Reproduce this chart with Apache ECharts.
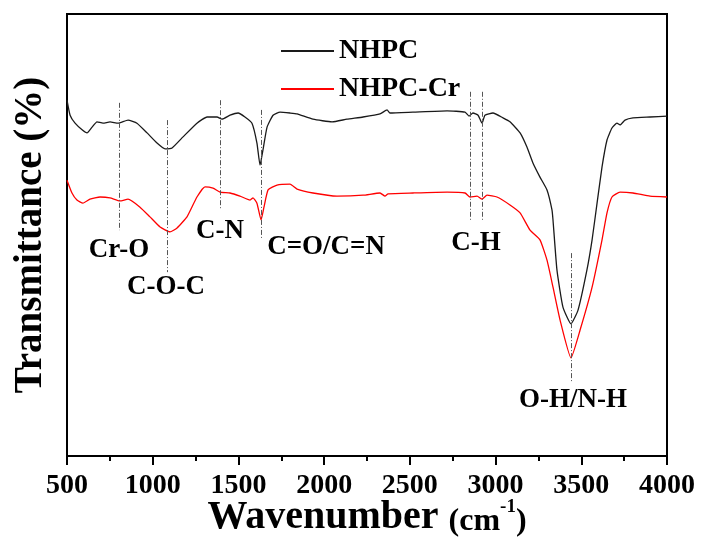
<!DOCTYPE html>
<html>
<head>
<meta charset="utf-8">
<script src="https://cdn.jsdelivr.net/npm/echarts@6/dist/echarts.min.js"></script>
<style>
html,body{margin:0;padding:0;background:#fff;}
#chart{width:701px;height:538px;}
</style>
</head>
<body>
<div id="chart"></div>
<script>
// NHPC (black) spectrum: [wavenumber, transmittance]
var nhpcWave = [500,518,547,588,617,646,675,710,751,798,856,908,967,1025,1072,1113,1177,1258,1317,1375,1404,1451,1498,1538,1579,1608,1626,1643,1667,1702,1743,1801,1842,1935,2046,2133,2227,2326,2367,2384,2518,2717,2822,2845,2868,2898,2921,2938,2985,3043,3084,3143,3183,3218,3259,3300,3329,3335,3358,3393,3440,3481,3533,3563,3592,3621,3650,3679,3708,3726,3755,3802,3901,4000];
var nhpcT    = [80.5,77.1,75.3,73.8,73.1,74.4,75.6,75.3,75.6,75.3,76.0,75.3,73.1,70.8,69.5,69.7,72.2,75.3,76.7,76.7,76.2,77.1,77.6,76.7,75.3,70.8,65.8,69.2,74.4,77.1,77.8,77.6,77.4,76.2,75.6,76.2,76.7,77.4,78.3,77.6,77.8,78.1,77.8,76.9,77.6,77.1,75.3,77.1,77.6,76.5,75.6,73.1,69.9,66.3,63.1,60.2,55.7,53.4,42.1,33.7,29.9,33.0,42.1,48.9,57.2,65.4,71.5,74.2,75.3,74.9,76.0,76.5,76.7,76.9];

// NHPC-Cr (red) spectrum
var crWave = [500,529,558,593,634,693,751,809,856,926,984,1043,1101,1142,1200,1258,1305,1352,1393,1451,1509,1568,1585,1608,1632,1649,1673,1725,1801,1842,1935,2075,2227,2326,2355,2373,2518,2717,2822,2851,2892,2921,2950,3008,3084,3143,3201,3259,3300,3335,3376,3440,3493,3563,3621,3650,3679,3726,3802,3901,4000];
var crT    = [62.4,59.5,57.9,57.2,58.1,58.6,58.4,57.7,58.1,56.3,54.1,51.8,50.7,51.6,54.1,58.6,60.9,60.6,59.7,59.5,58.8,57.9,58.4,57.2,53.4,56.3,60.2,61.3,61.5,60.4,59.5,58.8,59.0,59.5,58.8,59.3,59.5,59.7,59.5,58.6,58.8,58.1,59.0,58.6,56.8,55.0,51.1,48.9,44.3,38.2,30.8,22.2,28.5,38.2,48.9,55.0,58.6,59.7,59.5,58.8,58.6];

// band marker lines
var markerWave   = [803,1083,1393,1632,2851,2921,3440];
var markerTop    = [79.9,76.0,80.5,78.3,82.4,82.4,45.9];
var markerBottom = [51.1,41.6,55.7,49.3,53.4,53.4,16.7];

// band labels
var labelNames = ['Cr-O','C-O-C','C-N','C=O/C=N','C-H','O-H/N-H'];
var labelWave  = [803,1077,1393,2011,2886,3452];
var labelT     = [46.6,38.2,50.9,47.3,48.2,12.7];

// x ticks
var xMin = 500, xMax = 4000, xStep = 500;

var FONT = "'Times New Roman','Liberation Serif',serif";

function zip(a,b){var r=[];for(var i=0;i<a.length;i++)r.push([a[i],b[i]]);return r;}

var markLines = [];
for (var i=0;i<markerWave.length;i++){
  markLines.push([{coord:[markerWave[i],markerTop[i]]},{coord:[markerWave[i],markerBottom[i]]}]);
}
var labelData = [];
for (var j=0;j<labelNames.length;j++){
  labelData.push({name:labelNames[j], value:[labelWave[j],labelT[j]]});
}

var chart = echarts.init(document.getElementById('chart'), null, {renderer:'canvas'});
chart.setOption({
  animation:false,
  backgroundColor:'#fff',
  grid:{left:67,right:34,top:14,bottom:82,containLabel:false,outerBoundsMode:'none',
        show:true,borderColor:'#000',borderWidth:2,backgroundColor:'transparent'},
  legend:{
    orient:'vertical',left:276,top:31,itemWidth:53,itemHeight:2,itemGap:8,icon:'rect',
    data:['NHPC','NHPC-Cr'],
    textStyle:{fontFamily:FONT,fontWeight:'bold',fontSize:28,color:'#000',lineHeight:30,padding:[0,0,0,0]}
  },
  xAxis:{
    type:'value',min:xMin,max:xMax,interval:xStep,
    name:'{a|Wavenumber }{b|(cm}{c|-1}{b|)}',
    nameLocation:'middle',nameGap:42,nameMoveOverlap:false,
    nameTextStyle:{rich:{
      a:{fontFamily:FONT,fontWeight:'bold',fontSize:40,color:'#000'},
      b:{fontFamily:FONT,fontWeight:'bold',fontSize:32,color:'#000',verticalAlign:'bottom'},
      c:{fontFamily:FONT,fontWeight:'bold',fontSize:19,color:'#000',verticalAlign:'top',padding:[0,0,14,0]}
    }},
    axisLine:{show:true,lineStyle:{color:'#000',width:2}},
    axisTick:{show:true,inside:false,length:9,lineStyle:{color:'#000',width:2}},
    minorTick:{show:true,splitNumber:2,length:5,lineStyle:{color:'#000',width:2}},
    axisLabel:{fontFamily:FONT,fontWeight:'bold',fontSize:28,color:'#000',margin:16,
               formatter:function(v){return String(v);}},
    splitLine:{show:false}
  },
  yAxis:{
    type:'value',min:0,max:100,
    name:'Transmittance (%)',nameLocation:'middle',nameGap:17,nameMoveOverlap:false,
    nameTextStyle:{fontFamily:FONT,fontWeight:'bold',fontSize:39,color:'#000'},
    axisLine:{show:true,lineStyle:{color:'#000',width:2}},
    axisTick:{show:false},axisLabel:{show:false},splitLine:{show:false}
  },
  series:[
    {name:'NHPC',type:'line',data:zip(nhpcWave,nhpcT),symbol:'none',smooth:0.15,
     lineStyle:{color:'#1a1a1a',width:1.3},itemStyle:{color:'#1a1a1a'},z:3},
    {name:'NHPC-Cr',type:'line',data:zip(crWave,crT),symbol:'none',smooth:0.15,
     lineStyle:{color:'#ff0000',width:1.3},itemStyle:{color:'#ff0000'},z:3},
    {name:'bands',type:'scatter',data:labelData,symbolSize:0,silent:true,z:4,
     itemStyle:{opacity:1},
     label:{show:true,position:'inside',formatter:'{b}',fontFamily:FONT,fontWeight:'bold',fontSize:27,color:'#000',opacity:1},
     markLine:{silent:true,symbol:['none','none'],label:{show:false},
       lineStyle:{color:'#555',width:1,type:[5,2,1,2],opacity:1},data:markLines}}
  ]
});
</script>
</body>
</html>
